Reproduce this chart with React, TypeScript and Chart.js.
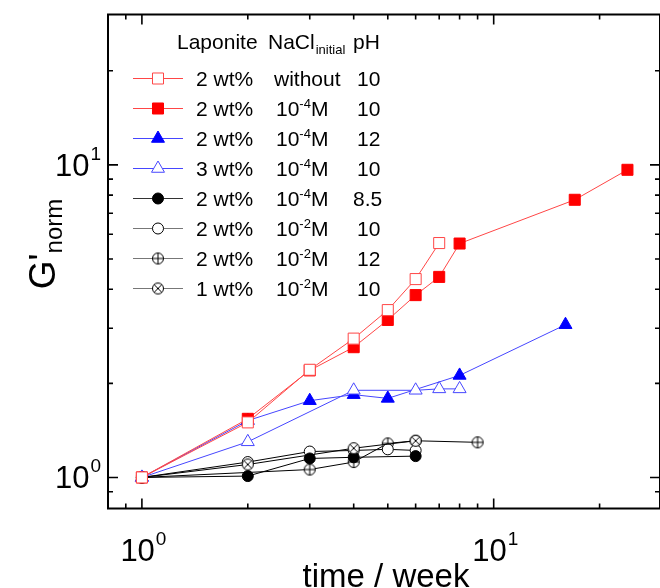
import React, { useEffect, useRef } from 'react';
import { Chart, registerables } from 'chart.js';
Chart.register(...registerables);

// ---- data (time in weeks, normalized G') ----
const weeksOpenSq = [1, 2, 3, 4, 5, 6, 7];
const gOpenSq = [1, 1.5, 2.21, 2.78, 3.43, 4.31, 5.62];
const weeksFilledSq = [1, 2, 3, 4, 5, 6, 7, 8, 17, 24];
const gFilledSq = [1, 1.54, 2.2, 2.61, 3.19, 3.83, 4.38, 5.6, 7.73, 9.64];
const weeksFilledTri = [1, 2, 3, 4, 5, 8, 16];
const gFilledTri = [1, 1.52, 1.76, 1.84, 1.79, 2.12, 3.08];
const weeksOpenTri = [1, 2, 4, 6, 7, 8];
const gOpenTri = [1, 1.3, 1.9, 1.9, 1.92, 1.92];
const weeksFilledCirc = [1, 2, 3, 4, 6];
const gFilledCirc = [1, 1.01, 1.15, 1.16, 1.17];
const weeksOpenCirc = [1, 2, 3, 4, 5, 6];
const gOpenCirc = [1, 1.12, 1.21, 1.22, 1.23, 1.22];
const weeksPlusCirc = [1, 3, 4, 5, 6, 9];
const gPlusCirc = [1, 1.06, 1.12, 1.285, 1.31, 1.295];
const weeksCrossCirc = [1, 2, 4, 6];
const gCrossCirc = [1, 1.1, 1.24, 1.31];

// ---- legend text ----
const legendHeader = ['Laponite', 'NaCl', 'initial', 'pH'];
const legendConc = ['2 wt%', '2 wt%', '2 wt%', '3 wt%', '2 wt%', '2 wt%', '2 wt%', '1 wt%'];
const legendSaltExp = ['', '-4', '-4', '-4', '-4', '-2', '-2', '-2'];
const legendPH = ['10', '10', '12', '10', '8.5', '10', '12', '10'];

// ---- axis ticks ----
const xMajorTicks = [1, 10];
const xMinorTicks = [0.9, 2, 3, 4, 5, 6, 7, 8, 9, 20];
const yMajorTicks = [1, 10];
const yMinorTicks = [0.9, 2, 3, 4, 5, 6, 7, 8, 9, 20];
const majorExp = ['0', '1'];

const FONT = "'Liberation Sans', Arial, sans-serif";
const RED_LINE = 'rgb(255,70,70)';
const RED = 'rgb(255,0,0)';
const BLUE_LINE = 'rgb(70,70,255)';
const BLUE = 'rgb(0,0,255)';
const BLACK = '#000';

function circleMarker(kind: 'plus' | 'cross'): HTMLCanvasElement {
  const c = document.createElement('canvas');
  c.width = 14;
  c.height = 14;
  const g = c.getContext('2d')!;
  const r = 5.5;
  g.fillStyle = '#fff';
  g.strokeStyle = '#000';
  g.lineWidth = 1;
  g.beginPath();
  g.arc(7, 7, r, 0, Math.PI * 2);
  g.fill();
  g.stroke();
  g.beginPath();
  if (kind === 'plus') {
    g.moveTo(7 - r, 7); g.lineTo(7 + r, 7);
    g.moveTo(7, 7 - r); g.lineTo(7, 7 + r);
  } else {
    const d = r * Math.SQRT1_2;
    g.moveTo(7 - d, 7 - d); g.lineTo(7 + d, 7 + d);
    g.moveTo(7 + d, 7 - d); g.lineTo(7 - d, 7 + d);
  }
  g.stroke();
  return c;
}

function pts(xs: number[], ys: number[]) {
  return xs.map((x, i) => ({ x, y: ys[i] }));
}

type Spec = {
  label: string; xs: number[]; ys: number[]; line: string; style: any;
  fill: string; border: string; radius: number; order: number; legendLine: string;
};

export default function App() {
  const ref = useRef<HTMLCanvasElement | null>(null);
  useEffect(() => {
    const plusImg = circleMarker('plus');
    const crossImg = circleMarker('cross');
    const specs: Spec[] = [
      { label: 'open sq', xs: weeksOpenSq, ys: gOpenSq, line: RED_LINE, style: 'rect', fill: '#fff', border: RED_LINE, radius: 7.8, order: 0, legendLine: RED_LINE },
      { label: 'filled sq', xs: weeksFilledSq, ys: gFilledSq, line: RED_LINE, style: 'rect', fill: RED, border: RED, radius: 7.8, order: 1, legendLine: RED_LINE },
      { label: 'filled tri', xs: weeksFilledTri, ys: gFilledTri, line: BLUE_LINE, style: 'triangle', fill: BLUE, border: BLUE, radius: 7.5, order: 3, legendLine: BLUE_LINE },
      { label: 'open tri', xs: weeksOpenTri, ys: gOpenTri, line: BLUE_LINE, style: 'triangle', fill: '#fff', border: BLUE_LINE, radius: 7.5, order: 2, legendLine: BLUE_LINE },
      { label: 'filled circ', xs: weeksFilledCirc, ys: gFilledCirc, line: BLACK, style: 'circle', fill: BLACK, border: BLACK, radius: 5.5, order: 5, legendLine: '#333' },
      { label: 'open circ', xs: weeksOpenCirc, ys: gOpenCirc, line: BLACK, style: 'circle', fill: '#fff', border: BLACK, radius: 5.5, order: 6, legendLine: '#777' },
      { label: 'plus circ', xs: weeksPlusCirc, ys: gPlusCirc, line: BLACK, style: plusImg, fill: '#fff', border: BLACK, radius: 5.5, order: 7, legendLine: '#777' },
      { label: 'cross circ', xs: weeksCrossCirc, ys: gCrossCirc, line: BLACK, style: crossImg, fill: '#fff', border: BLACK, radius: 5.5, order: 4, legendLine: '#777' },
    ];

    const drawMarker = (ctx: CanvasRenderingContext2D, s: Spec, x: number, y: number) => {
      ctx.save();
      if (s.style instanceof HTMLCanvasElement) {
        ctx.drawImage(s.style, x - 7, y - 7);
        ctx.restore();
        return;
      }
      ctx.fillStyle = s.fill;
      ctx.strokeStyle = s.border;
      ctx.lineWidth = 1;
      ctx.beginPath();
      if (s.style === 'rect') {
        const h = s.radius * Math.SQRT1_2;
        ctx.rect(x - h, y - h, 2 * h, 2 * h);
      } else if (s.style === 'triangle') {
        const r = s.radius;
        for (let k = 0; k < 3; k++) {
          const a = (k * 2 * Math.PI) / 3;
          const px = x + Math.sin(a) * r;
          const py = y - Math.cos(a) * r;
          if (k === 0) ctx.moveTo(px, py); else ctx.lineTo(px, py);
        }
        ctx.closePath();
      } else {
        ctx.arc(x, y, s.radius, 0, Math.PI * 2);
      }
      ctx.fill();
      ctx.stroke();
      ctx.restore();
    };

    const decor = {
      id: 'decor',
      afterDraw(chart: any) {
        const ctx: CanvasRenderingContext2D = chart.ctx;
        const a = chart.chartArea;
        const xs = chart.scales.x;
        const ys = chart.scales.y;
        ctx.save();
        ctx.strokeStyle = '#000';
        ctx.fillStyle = '#000';
        ctx.lineWidth = 2;
        ctx.strokeRect(a.left, a.top, a.right - a.left, a.bottom - a.top);
        ctx.lineWidth = 1.6;
        const tickX = (v: number, len: number) => {
          const px = xs.getPixelForValue(v);
          ctx.beginPath();
          ctx.moveTo(px, a.bottom); ctx.lineTo(px, a.bottom - len);
          ctx.moveTo(px, a.top); ctx.lineTo(px, a.top + len);
          ctx.stroke();
        };
        const tickY = (v: number, len: number) => {
          const py = ys.getPixelForValue(v);
          ctx.beginPath();
          ctx.moveTo(a.left, py); ctx.lineTo(a.left + len, py);
          ctx.moveTo(a.right, py); ctx.lineTo(a.right - len, py);
          ctx.stroke();
        };
        xMajorTicks.forEach((v) => tickX(v, 10));
        xMinorTicks.forEach((v) => tickX(v, 5));
        yMajorTicks.forEach((v) => tickY(v, 10));
        yMinorTicks.forEach((v) => tickY(v, 5));

        // tick labels
        const bigF = `31px ${FONT}`;
        const supF = `19px ${FONT}`;
        ctx.textBaseline = 'alphabetic';
        xMajorTicks.forEach((v, i) => {
          const px = xs.getPixelForValue(v);
          ctx.font = bigF;
          const w1 = ctx.measureText('10').width;
          ctx.font = supF;
          const w2 = ctx.measureText(majorExp[i]).width;
          const start = px - (w1 + w2) / 2 + 1;
          ctx.font = bigF;
          ctx.textAlign = 'left';
          ctx.fillText('10', start, 561);
          ctx.font = supF;
          ctx.fillText(majorExp[i], start + w1 + 1, 545);
        });
        yMajorTicks.forEach((v, i) => {
          const py = ys.getPixelForValue(v);
          ctx.font = supF;
          const w2 = ctx.measureText(majorExp[i]).width;
          ctx.font = bigF;
          const w1 = ctx.measureText('10').width;
          const right = 101;
          ctx.textAlign = 'left';
          ctx.fillText('10', right - w2 - 1 - w1, py + 11);
          ctx.font = supF;
          ctx.fillText(majorExp[i], right - w2, py - 5);
        });

        // x title
        ctx.font = `33px ${FONT}`;
        ctx.textAlign = 'center';
        ctx.fillText('time / week', 386, 587);

        // y title
        ctx.save();
        ctx.translate(55, 244);
        ctx.rotate(-Math.PI / 2);
        ctx.font = `37px ${FONT}`;
        const gw = ctx.measureText("G'").width;
        ctx.font = `24px ${FONT}`;
        const nw = ctx.measureText('norm').width;
        const st = -(gw + nw) / 2;
        ctx.textAlign = 'left';
        ctx.font = `37px ${FONT}`;
        ctx.fillText("G'", st, 0);
        ctx.font = `24px ${FONT}`;
        ctx.fillText('norm', st + gw, 7);
        ctx.restore();

        // legend
        const lf = `21px ${FONT}`;
        const sf = `13px ${FONT}`;
        ctx.textAlign = 'left';
        ctx.font = lf;
        ctx.fillText(legendHeader[0], 177, 49);
        ctx.fillText(legendHeader[1], 268, 49);
        const ncw = ctx.measureText(legendHeader[1]).width;
        ctx.font = sf;
        ctx.fillText(legendHeader[2], 268 + ncw + 1, 54);
        ctx.font = lf;
        ctx.fillText(legendHeader[3], 353, 49);
        specs.forEach((s, i) => {
          const y = 78.5 + i * 30;
          ctx.strokeStyle = s.legendLine;
          ctx.lineWidth = 1;
          ctx.beginPath();
          ctx.moveTo(133, y); ctx.lineTo(183, y);
          ctx.stroke();
          drawMarker(ctx, s, 158, y);
          ctx.fillStyle = '#000';
          ctx.font = lf;
          const base = y + 7.5;
          ctx.fillText(legendConc[i], 196, base);
          if (legendSaltExp[i] === '') {
            ctx.fillText('without', 274, base);
          } else {
            ctx.fillText('10', 276, base);
            const w10 = ctx.measureText('10').width;
            ctx.font = sf;
            ctx.fillText(legendSaltExp[i], 276 + w10, base - 8);
            const we = ctx.measureText(legendSaltExp[i]).width;
            ctx.font = lf;
            ctx.fillText('M', 276 + w10 + we, base);
          }
          const ph = legendPH[i];
          ctx.fillText(ph, ph.length > 2 ? 353 : 357, base);
        });
        ctx.restore();
      },
    };

    const chart = new Chart(ref.current!, {
      type: 'line',
      data: {
        datasets: specs.map((s) => ({
          label: s.label,
          data: pts(s.xs, s.ys),
          borderColor: s.line,
          borderWidth: 1,
          pointStyle: s.style,
          pointRadius: s.radius,
          pointBackgroundColor: s.fill,
          pointBorderColor: s.border,
          pointBorderWidth: 1,
          order: s.order,
          fill: false,
          tension: 0,
        })),
      },
      options: {
        animation: false,
        responsive: false,
        events: [],
        layout: { autoPadding: false, padding: { left: 108, top: 14.5, right: -1.5, bottom: 79.5 } },
        plugins: { legend: { display: false }, tooltip: { enabled: false } },
        scales: {
          x: { type: 'logarithmic', display: false, min: 0.801, max: 29.7 },
          y: { type: 'logarithmic', display: false, min: 0.7955, max: 30.26 },
        },
      },
      plugins: [decor],
    });
    return () => chart.destroy();
  }, []);
  return (
    <div style={{ position: 'fixed', left: 0, top: 0, width: 660, height: 588, background: '#fff' }}>
      <canvas ref={ref} width={660} height={588} style={{ display: 'block', width: 660, height: 588 }} />
    </div>
  );
}
